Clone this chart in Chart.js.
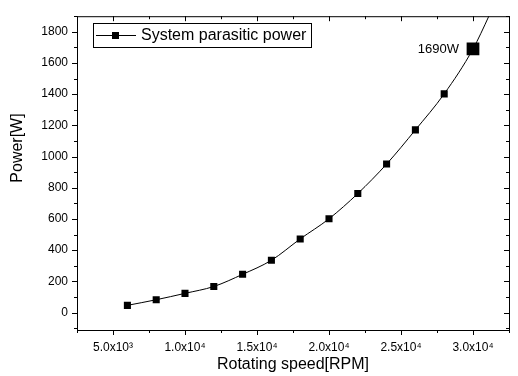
<!DOCTYPE html>
<html>
<head>
<meta charset="utf-8">
<script src="https://cdn.jsdelivr.net/npm/chart.js@4/dist/chart.umd.min.js"></script>
<style>
  html, body { margin: 0; padding: 0; background: #fff; }
  #wrap { width: 518px; height: 376px; position: relative; }
</style>
</head>
<body>
<div id="wrap"><canvas id="power-chart"></canvas></div>
<script>
// measured points
const speed = [6000, 8000, 10000, 12000, 14000, 16000, 18000, 20000, 22000, 24000, 26000, 28000];
const power = [46, 82, 123, 167, 245, 335, 472, 601, 763, 952, 1171, 1402];

// fitted curve continues past the last point
const fitSpeed = [6000, 8000, 10000, 12000, 14000, 16000, 18000, 20000, 22000, 24000, 26000, 28000, 30000, 31100, 32000];
const fitPower = [46, 82, 123, 167, 245, 335, 472, 601, 763, 952, 1171, 1402, 1690, 1900, 2090];

const markSpeed = [30000];
const markPower = [1690];
const markLabel = '1690W';

const xTicks = [5000, 10000, 15000, 20000, 25000, 30000];
const xTickLabels = ['5.0x10³', '1.0x10⁴', '1.5x10⁴', '2.0x10⁴', '2.5x10⁴', '3.0x10⁴'];
const yTicks = [0, 200, 400, 600, 800, 1000, 1200, 1400, 1600, 1800];

const legendText = 'System parasitic power';
const xTitle = 'Rotating speed[RPM]';
const yTitle = 'Power[W]';

const FONT = '"Liberation Sans", Arial, sans-serif';

const frame = {
  id: 'frame',
  afterDraw(chart) {
    const { ctx, chartArea: a, scales } = chart;
    const x = scales.x, y = scales.y;
    ctx.save();
    ctx.strokeStyle = '#000';
    ctx.lineWidth = 1;
    ctx.strokeRect(a.left + 0.5, a.top + 0.5, a.right - a.left, a.bottom - a.top);

    ctx.beginPath();
    // x ticks: bottom outward, top inward
    for (let v = 2500; v <= 32500; v += 2500) {
      const px = Math.round(x.getPixelForValue(v)) + 0.5;
      const len = v % 5000 === 0 ? 5 : 3;
      ctx.moveTo(px, a.bottom); ctx.lineTo(px, a.bottom + len);
      ctx.moveTo(px, a.top); ctx.lineTo(px, a.top + len);
    }
    // y ticks: left outward, right inward
    for (let v = -100; v <= 1900; v += 100) {
      const py = Math.round(y.getPixelForValue(v)) + 0.5;
      const len = v % 200 === 0 ? 5 : 3;
      ctx.moveTo(a.left, py); ctx.lineTo(a.left - len, py);
      ctx.moveTo(a.right, py); ctx.lineTo(a.right - len, py);
    }
    ctx.stroke();

    // axis titles
    ctx.fillStyle = '#000';
    ctx.font = '16px ' + FONT;
    ctx.textAlign = 'center';
    ctx.textBaseline = 'middle';
    ctx.fillText(xTitle, (a.left + a.right) / 2, 365);
    ctx.save();
    ctx.translate(18, 148);
    ctx.rotate(-Math.PI / 2);
    ctx.fillText(yTitle, 0, 0);
    ctx.restore();

    // legend
    ctx.strokeRect(93.5, 23.5, 218, 24);
    ctx.beginPath();
    ctx.moveTo(96, 35.5); ctx.lineTo(136, 35.5);
    ctx.stroke();
    ctx.fillRect(112, 32, 7, 7);
    ctx.textAlign = 'left';
    ctx.fillText(legendText, 141, 36);

    // highlight label
    const mx = x.getPixelForValue(markSpeed[0]);
    const my = y.getPixelForValue(markPower[0]);
    ctx.font = '13px ' + FONT;
    ctx.textAlign = 'right';
    ctx.fillText(markLabel, mx - 14, my);
    ctx.restore();
  }
};

new Chart(document.getElementById('power-chart'), {
  type: 'scatter',
  data: {
    datasets: [
      {
        type: 'line',
        data: fitSpeed.map((s, i) => ({ x: s, y: fitPower[i] })),
        borderColor: '#000',
        borderWidth: 1,
        pointRadius: 0,
        cubicInterpolationMode: 'monotone',
        fill: false
      },
      {
        data: speed.map((s, i) => ({ x: s, y: power[i] })),
        pointStyle: 'rect',
        pointRadius: 5,
        backgroundColor: '#000',
        borderColor: '#000',
        borderWidth: 0
      },
      {
        data: markSpeed.map((s, i) => ({ x: s, y: markPower[i] })),
        pointStyle: 'rect',
        pointRadius: 9,
        backgroundColor: '#000',
        borderColor: '#000',
        borderWidth: 0
      }
    ]
  },
  options: {
    responsive: true,
    maintainAspectRatio: false,
    animation: false,
    layout: { padding: { left: 0, top: 10, right: 7, bottom: 0 } },
    plugins: { legend: { display: false }, tooltip: { enabled: false } },
    scales: {
      x: {
        type: 'linear',
        min: 2500,
        max: 32500,
        afterBuildTicks: s => { s.ticks = xTicks.map(v => ({ value: v })); },
        afterFit: s => { s.height = 46; },
        grid: { display: false, drawTicks: false },
        border: { display: false },
        ticks: {
          padding: 10,
          color: '#000',
          font: { family: FONT, size: 12 },
          maxRotation: 0,
          autoSkip: false,
          callback: v => xTickLabels[xTicks.indexOf(v)]
        }
      },
      y: {
        type: 'linear',
        min: -112,
        max: 1900,
        afterBuildTicks: s => { s.ticks = yTicks.map(v => ({ value: v })); },
        afterFit: s => { s.width = 77; },
        grid: { display: false, drawTicks: false },
        border: { display: false },
        ticks: {
          padding: 9,
          color: '#000',
          font: { family: FONT, size: 12 },
          autoSkip: false,
          callback: v => String(v)
        }
      }
    }
  },
  plugins: [frame]
});
</script>
</body>
</html>
